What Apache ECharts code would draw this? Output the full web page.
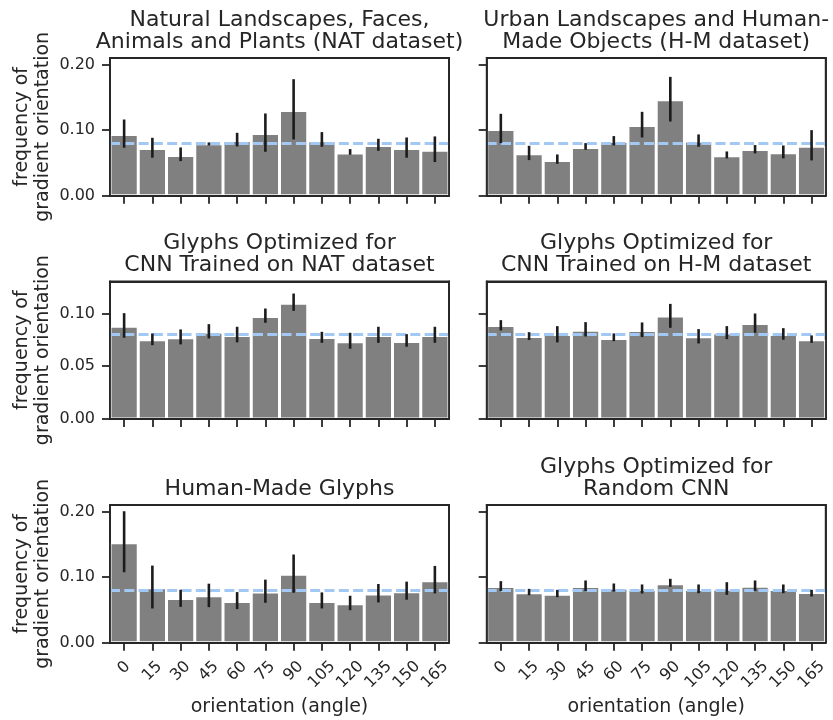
<!DOCTYPE html>
<html>
<head>
<meta charset="utf-8">
<script src="https://cdn.jsdelivr.net/npm/echarts@6/dist/echarts.min.js"></script>
<style>
  html, body { margin: 0; padding: 0; background: #fff; }
  #chart { width: 833px; height: 720px; }
</style>
</head>
<body>
<div id="chart"></div>
<script>
// Orientation bins (degrees)
const angles = ['0', '15', '30', '45', '60', '75', '90', '105', '120', '135', '150', '165'];

// Uniform reference: 1 / number of bins
const uniformLevel = 1 / 12;

// Natural landscapes, faces, animals and plants (NAT)
const natMean = [0.0934, 0.0721, 0.0614, 0.0792, 0.0843, 0.0949, 0.1300, 0.0838, 0.0650, 0.0766, 0.0721, 0.0695];
const natLow  = [0.0731, 0.0579, 0.0528, 0.0766, 0.0751, 0.0670, 0.0858, 0.0746, 0.0624, 0.0685, 0.0579, 0.0513];
const natHigh = [0.1162, 0.0883, 0.0736, 0.0812, 0.0959, 0.1254, 0.1777, 0.0970, 0.0711, 0.0868, 0.0888, 0.0904];

// Urban landscapes and human-made objects (H-M)
const hmMean = [0.1010, 0.0640, 0.0538, 0.0736, 0.0827, 0.1071, 0.1462, 0.0832, 0.0609, 0.0706, 0.0655, 0.0756];
const hmLow  = [0.0802, 0.0543, 0.0487, 0.0701, 0.0766, 0.0888, 0.1132, 0.0746, 0.0569, 0.0645, 0.0569, 0.0538];
const hmHigh = [0.1249, 0.0761, 0.0629, 0.0802, 0.0909, 0.1279, 0.1812, 0.0934, 0.0675, 0.0772, 0.0766, 0.1000];

// Glyphs optimized for the CNN trained on NAT
const glyphNatMean = [0.0880, 0.0751, 0.0770, 0.0823, 0.0792, 0.0972, 0.1098, 0.0773, 0.0732, 0.0792, 0.0735, 0.0792];
const glyphNatLow  = [0.0770, 0.0700, 0.0707, 0.0763, 0.0726, 0.0912, 0.1025, 0.0722, 0.0666, 0.0722, 0.0685, 0.0722];
const glyphNatHigh = [0.1003, 0.0811, 0.0849, 0.0899, 0.0874, 0.1047, 0.1189, 0.0826, 0.0817, 0.0874, 0.0804, 0.0874];

// Glyphs optimized for the CNN trained on H-M
const glyphHmMean = [0.0886, 0.0782, 0.0801, 0.0842, 0.0763, 0.0839, 0.0975, 0.0779, 0.0814, 0.0905, 0.0801, 0.0751];
const glyphHmLow  = [0.0839, 0.0748, 0.0726, 0.0782, 0.0738, 0.0776, 0.0864, 0.0716, 0.0757, 0.0817, 0.0751, 0.0722];
const glyphHmHigh = [0.0937, 0.0823, 0.0880, 0.0918, 0.0811, 0.0915, 0.1091, 0.0852, 0.0880, 0.1000, 0.0861, 0.0792];

// Human-made glyphs
const humanMean = [0.1524, 0.0839, 0.0675, 0.0716, 0.0629, 0.0772, 0.1043, 0.0629, 0.0593, 0.0742, 0.0777, 0.0946];
const humanLow  = [0.1074, 0.0522, 0.0547, 0.0542, 0.0512, 0.0609, 0.0762, 0.0522, 0.0496, 0.0614, 0.0655, 0.0752];
const humanHigh = [0.2005, 0.1176, 0.0808, 0.0900, 0.0772, 0.0962, 0.1345, 0.0767, 0.0716, 0.0895, 0.0931, 0.1171];

// Glyphs optimized for a random CNN
const randomMean = [0.0857, 0.0760, 0.0740, 0.0857, 0.0832, 0.0811, 0.0898, 0.0811, 0.0816, 0.0862, 0.0811, 0.0765];
const randomLow  = [0.0790, 0.0724, 0.0694, 0.0790, 0.0781, 0.0750, 0.0852, 0.0755, 0.0730, 0.0790, 0.0755, 0.0704];
const randomHigh = [0.0939, 0.0821, 0.0806, 0.0949, 0.0903, 0.0888, 0.0974, 0.0888, 0.0923, 0.0949, 0.0888, 0.0806];

// Panel titles
const titles = [
  'Natural Landscapes, Faces,\nAnimals and Plants (NAT dataset)',
  'Urban Landscapes and Human-\nMade Objects (H-M dataset)',
  'Glyphs Optimized for\nCNN Trained on NAT dataset',
  'Glyphs Optimized for\nCNN Trained on H-M dataset',
  'Human-Made Glyphs',
  'Glyphs Optimized for\nRandom CNN'
];

// Y tick values per row
const yTicksWide = [0, 0.1, 0.2];
const yTicksNarrow = [0, 0.05, 0.1];

const yLabel = 'frequency of\ngradient orientation';
const xLabel = 'orientation (angle)';

const panels = [
  { mean: natMean, low: natLow, high: natHigh },
  { mean: hmMean, low: hmLow, high: hmHigh },
  { mean: glyphNatMean, low: glyphNatLow, high: glyphNatHigh },
  { mean: glyphHmMean, low: glyphHmLow, high: glyphHmHigh },
  { mean: humanMean, low: humanLow, high: humanHigh },
  { mean: randomMean, low: randomLow, high: randomHigh }
];

// ---- layout & styling ----
const FONT = 'DejaVu Sans';
const INK = '#262626';
const colLeft = [110, 486.7];
const plotW = 339;
const rowTop = [58, 281.3, 505];
const plotH = 137.7;
const rowMax = [0.21, 0.1305, 0.21];
const rowTicks = [yTicksWide, yTicksNarrow, yTicksWide];

// Rotated tick labels: padding keeps each label centred under its tick
function xLabelFormatter(v) {
  return '{d' + v.length + '|' + v + '}';
}
const digitW = 10;
const labelBase = { fontFamily: FONT, fontSize: 16, color: INK };
const xRich = {
  d1: Object.assign({ padding: [0, 0, 0, 0] }, labelBase),
  d2: Object.assign({ padding: [digitW / 2, digitW / 2, 0, 0] }, labelBase),
  d3: Object.assign({ padding: [digitW, digitW, 0, 0] }, labelBase)
};

const frameLine = { show: true, onZero: false, lineStyle: { color: INK, width: 1.8 } };

const grid = [], xAxis = [], yAxis = [], series = [], graphic = [];

panels.forEach((p, i) => {
  const row = Math.floor(i / 2), col = i % 2;
  const left = colLeft[col], top = rowTop[row];
  grid.push({
    left: left, top: top, width: plotW, height: plotH, containLabel: false,
    show: true, borderColor: INK, borderWidth: 1.8, backgroundColor: 'transparent'
  });

  const isBottom = row === 2;
  const isLeft = col === 0;

  // bottom category axis
  xAxis.push({
    type: 'category', gridIndex: i, data: angles, position: 'bottom', z: 10,
    boundaryGap: true,
    axisLine: frameLine,
    axisTick: { show: true, alignWithLabel: true, interval: 0, length: 8, lineStyle: { color: INK, width: 1.8 } },
    axisLabel: {
      show: isBottom, interval: 0, rotate: 45, align: 'center', verticalAlign: 'middle', margin: 25,
      color: INK, fontFamily: FONT, fontSize: 16,
      formatter: xLabelFormatter, rich: xRich
    },
    name: isBottom ? xLabel : '', nameLocation: 'middle', nameGap: 55,
    nameTextStyle: { color: INK, fontFamily: FONT, fontSize: 19 },
    splitLine: { show: false }
  });
  // top frame edge
  xAxis.push({
    type: 'category', gridIndex: i, data: angles, position: 'top', z: 10,
    axisLine: frameLine,
    axisTick: { show: false }, axisLabel: { show: false }, splitLine: { show: false }
  });

  yAxis.push({
    type: 'value', gridIndex: i, min: 0, max: rowMax[row], position: 'left', z: 10,
    axisLine: frameLine,
    axisTick: { show: true, length: 8, lineStyle: { color: INK, width: 1.8 }, customValues: rowTicks[row] },
    axisLabel: {
      show: isLeft, margin: 15, color: INK, fontFamily: FONT, fontSize: 16,
      customValues: rowTicks[row],
      formatter: v => v.toFixed(2)
    },
    splitLine: { show: false },
    name: isLeft ? yLabel : '', nameLocation: 'middle', nameRotate: 90, nameGap: 56,
    nameTextStyle: { color: INK, fontFamily: FONT, fontSize: 19, lineHeight: 21 }
  });
  // right frame edge
  yAxis.push({
    type: 'value', gridIndex: i, min: 0, max: rowMax[row], position: 'right', z: 10,
    axisLine: frameLine,
    axisTick: { show: false }, axisLabel: { show: false }, splitLine: { show: false }
  });

  const xi = i * 2, yi = i * 2;

  series.push({
    type: 'bar', xAxisIndex: xi, yAxisIndex: yi, data: p.mean,
    barCategoryGap: '0%', z: 2,
    itemStyle: { color: '#808080', borderColor: '#ffffff', borderWidth: 1.5 },
    silent: true, animation: false,
    markLine: {
      silent: true, symbol: 'none', z: 5, animation: false,
      label: { show: false },
      lineStyle: { color: '#a1c9f4', width: 2.8, type: [10, 4.3], opacity: 1 },
      data: [{ yAxis: uniformLevel }]
    }
  });

  series.push({
    type: 'custom', xAxisIndex: xi, yAxisIndex: yi, z: 6, silent: true, animation: false,
    data: p.mean.map((_, k) => [k, p.low[k], p.high[k]]),
    encode: { x: 0, y: [1, 2] },
    renderItem: function (params, api) {
      const a = api.coord([api.value(0), api.value(1)]);
      const b = api.coord([api.value(0), api.value(2)]);
      return {
        type: 'line',
        shape: { x1: a[0], y1: a[1], x2: b[0], y2: b[1] },
        style: { stroke: '#1c1c1c', lineWidth: 2.6 }
      };
    }
  });

  graphic.push({
    type: 'text', x: left + plotW / 2, y: top - 5,
    style: {
      text: titles[i], fill: INK, font: '22px "' + FONT + '"',
      textAlign: 'center', textVerticalAlign: 'bottom', lineHeight: 22
    }
  });
});

const chart = echarts.init(document.getElementById('chart'), null, { renderer: 'canvas' });
chart.setOption({
  animation: false,
  backgroundColor: '#ffffff',
  textStyle: { fontFamily: FONT },
  grid: grid, xAxis: xAxis, yAxis: yAxis, series: series, graphic: graphic
});
</script>
</body>
</html>
